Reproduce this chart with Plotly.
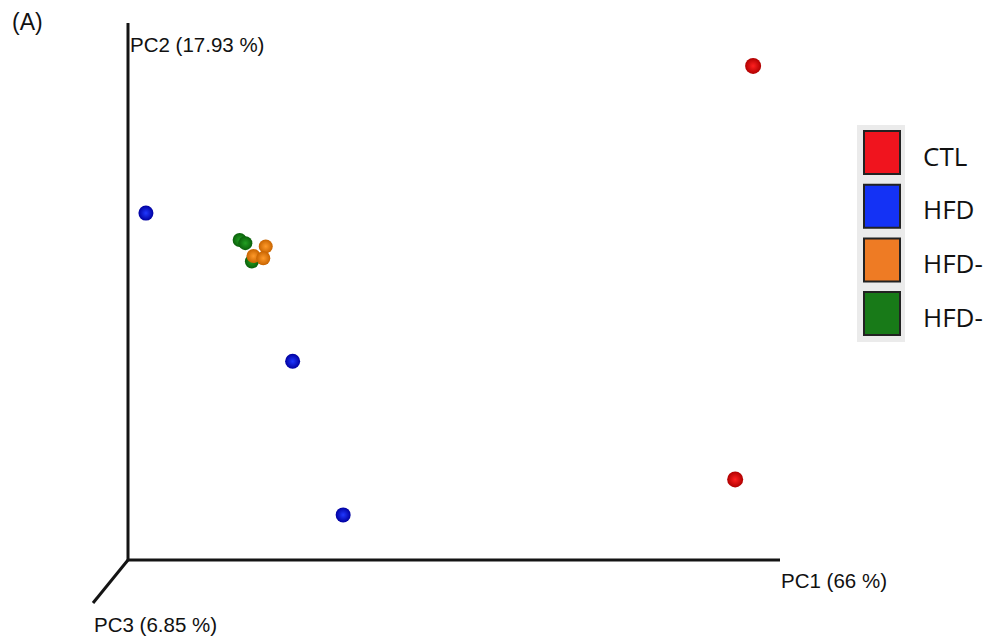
import plotly.graph_objects as go

# PCoA scores (PC1, PC2) per group
groups = ["CTL", "HFD", "HFD-", "HFD-"]
pc1 = {
    0: [0.467, 0.445],
    1: [-0.278, -0.098, -0.036],
    2: [-0.131, -0.146, -0.134],
    3: [-0.163, -0.156, -0.148],
}
pc2 = {
    0: [0.210, -0.175],
    1: [0.073, -0.065, -0.208],
    2: [0.042, 0.033, 0.031],
    3: [0.048, 0.045, 0.028],
}
# draw order so that orange spheres sit on top of the green ones
draw_order = [0, 1, 3, 2]

axis_titles = ["PC1 (66 %)", "PC2 (17.93 %)", "PC3 (6.85 %)"]
panel_label = "(A)"

sphere_color = ["#ff2020", "#2038ff", "#ff9a2a", "#22a022"]
sphere_edge = ["#b00000", "#0000a0", "#c86400", "#0a600a"]
sphere_size = [16, 15, 14, 14]
legend_color = ["#f0141e", "#1432f5", "#ee7b24", "#187a18"]

W, H = 992, 644
L, R, T, B = 128, 212, 23, 84
pw, ph = W - L - R, H - T - B


def px(x):
    return (x - L) / pw


def py(y):
    return (H - B - y) / ph


fig = go.Figure()
for g in draw_order:
    # radial gradient: bright centre (gradient colour) fading to a dark rim
    fig.add_trace(go.Scatter(
        x=pc1[g], y=pc2[g], mode="markers", name=groups[g], showlegend=False,
        marker=dict(size=sphere_size[g], color=sphere_edge[g],
                    gradient=dict(type="radial", color=sphere_color[g]),
                    line=dict(width=0)),
        hoverinfo="x+y+name",
    ))

axis_col = "#141414"
shapes = [
    dict(type="line", xref="paper", yref="paper", x0=0, y0=0, x1=1, y1=0,
         line=dict(color=axis_col, width=3)),
    dict(type="line", xref="paper", yref="paper", x0=0, y0=0, x1=0, y1=1,
         line=dict(color=axis_col, width=3)),
    dict(type="line", xref="paper", yref="paper", x0=0, y0=0,
         x1=px(93), y1=py(603), line=dict(color=axis_col, width=3)),
    # legend panel background
    dict(type="rect", xref="paper", yref="paper", x0=px(857), x1=px(905),
         y0=py(342), y1=py(125), fillcolor="#ebebeb", line=dict(width=0),
         layer="below"),
]

font_ax = dict(family="Liberation Sans, Arial, sans-serif", size=20.5, color="#111")
annotations = [
    dict(text=axis_titles[0], x=px(779), y=py(580), xanchor="left", yanchor="middle"),
    dict(text=axis_titles[1], x=px(128), y=py(44), xanchor="left", yanchor="middle"),
    dict(text=axis_titles[2], x=px(92), y=py(624), xanchor="left", yanchor="middle"),
    dict(text=panel_label, x=px(10), y=py(22), xanchor="left", yanchor="middle",
         font=dict(family="Liberation Sans, Arial, sans-serif", size=23, color="#111")),
]
for a in annotations:
    a.update(xref="paper", yref="paper", showarrow=False)
    a.setdefault("font", font_ax)

# legend: coloured boxes with group names
box_top, box_h, box_step = 131, 43, 53.7
for i, name in enumerate(groups):
    y0 = box_top + i * box_step
    shapes.append(dict(type="rect", xref="paper", yref="paper",
                       x0=px(864), x1=px(900), y0=py(y0 + box_h), y1=py(y0),
                       fillcolor=legend_color[i], line=dict(color="#222", width=2)))
    annotations.append(dict(text=name, xref="paper", yref="paper", showarrow=False,
                            x=px(921), y=py(y0 + box_h / 2 + 3),
                            xanchor="left", yanchor="middle",
                            font=dict(family="Open Sans, Noto Sans, sans-serif",
                                      size=26, color="#111")))

fig.update_layout(
    width=W, height=H,
    margin=dict(l=L, r=R, t=T, b=B),
    paper_bgcolor="white", plot_bgcolor="white",
    xaxis=dict(range=[-0.3, 0.5], visible=False, fixedrange=True),
    yaxis=dict(range=[-0.25, 0.25], visible=False, fixedrange=True),
    shapes=shapes, annotations=annotations,
    showlegend=False,
)

fig.write_html("out.html", config=dict(displayModeBar=False))
